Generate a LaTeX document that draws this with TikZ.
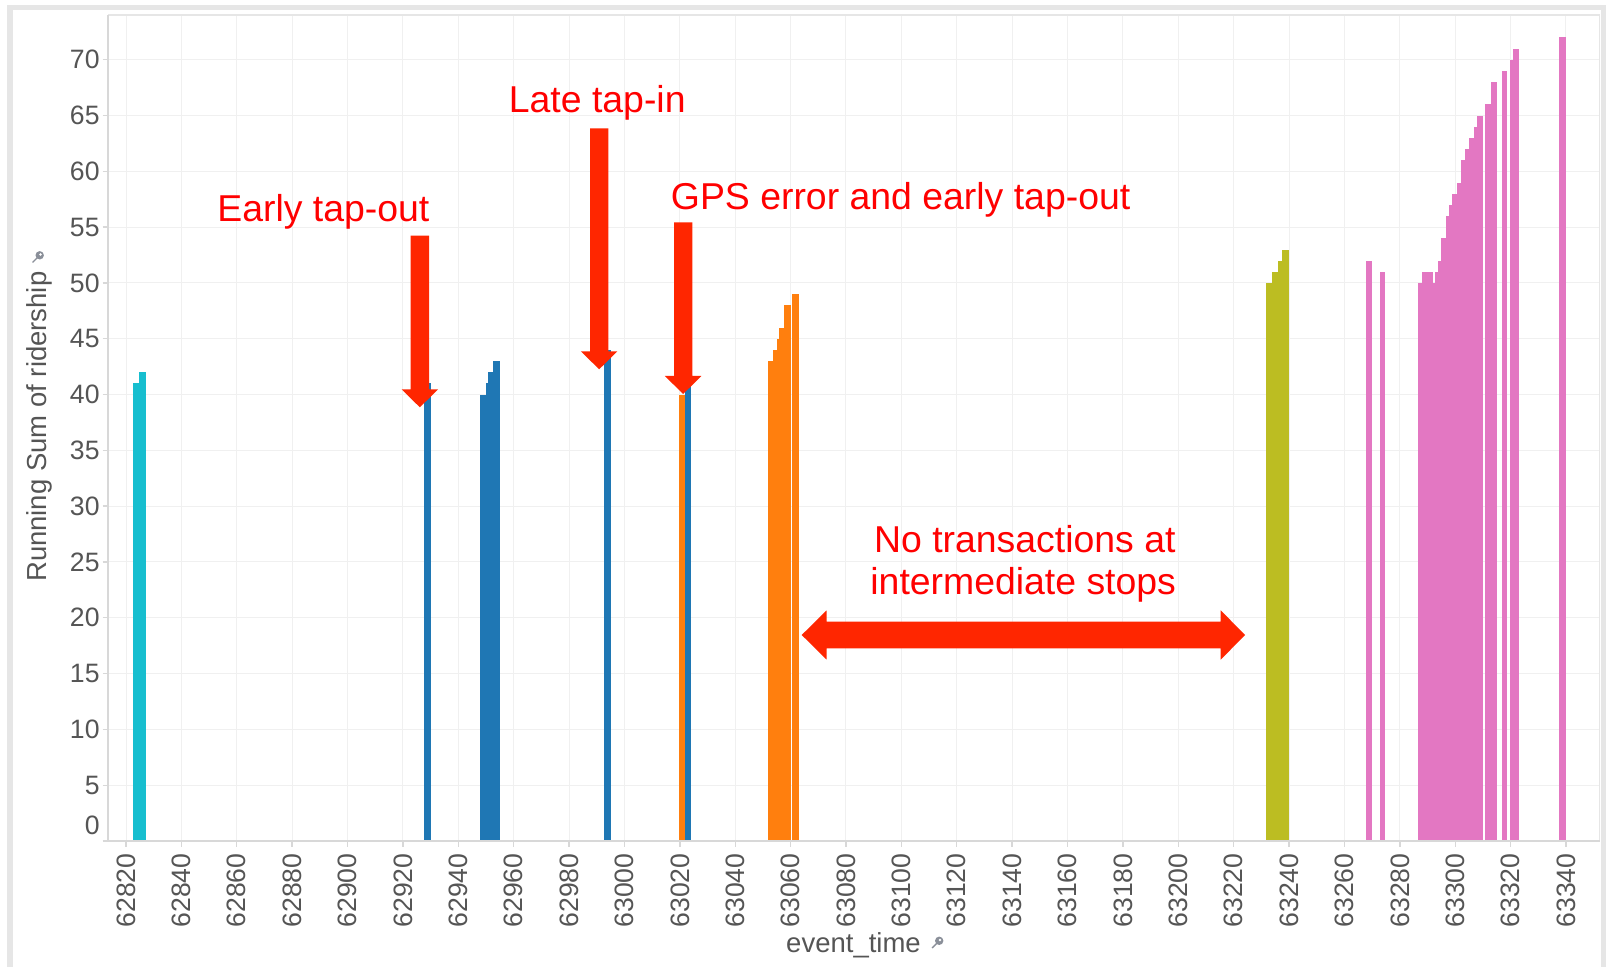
\documentclass[tikz,border=0pt]{standalone}
\usepackage{fontspec}
\setmainfont{Liberation Sans}
\usepackage{xcolor}
\definecolor{tabcyan}{HTML}{17BECF}
\definecolor{tabblue}{HTML}{1F77B4}
\definecolor{taborange}{HTML}{FF7F0E}
\definecolor{tabolive}{HTML}{BCBD22}
\definecolor{tabpink}{HTML}{E377C2}
\definecolor{markred}{HTML}{FF2600}
\definecolor{notered}{HTML}{FF0000}
\definecolor{inkgray}{HTML}{555555}
\definecolor{gridgray}{HTML}{F0F0F0}
\definecolor{axisgray}{HTML}{D8D8D8}
\definecolor{framegray}{HTML}{E6E6E6}
\definecolor{pingray}{HTML}{8A8F99}
% block arrow pointing down: centre x, top, tip
\newcommand{\downArrow}[3]{%
  \fill[markred] (#1-9.15,#2) -- (#1+9.15,#2) -- (#1+9.15,#3-18) -- (#1+18.3,#3-18)
    -- (#1,#3) -- (#1-18.3,#3-18) -- (#1-9.15,#3-18) -- cycle;}
% little pin next to the axis titles
\newcommand{\pinmark}[1]{%
  \begin{scope}[shift={(#1)}]
    \draw[pingray, line width=0.7pt] (0.5,-0.5) -- (-5,5);
    \fill[pingray] (2.2,-2.2) circle[radius=2.1pt];
    \fill[white] (3,-3) circle[radius=0.7pt];
  \end{scope}}

\begin{document}
\begin{tikzpicture}[
  x=0.5pt, y=-0.5pt,
  gline/.style={draw=gridgray, line width=0.5pt},
  axisline/.style={draw=axisgray, line width=0.7pt},
  xlab/.style={rotate=90, anchor=east, inner sep=0pt, text=inkgray,
               font=\fontsize{13.3}{15}\selectfont},
  ylab/.style={anchor=east, inner sep=0pt, text=inkgray,
               font=\fontsize{13.3}{15}\selectfont},
  ttl/.style={anchor=base, inner sep=0pt, text=inkgray,
              font=\fontsize{13.75}{16}\selectfont},
  note/.style={anchor=base west, inner sep=0pt, text=notered,
               font=\fontsize{18.7}{21}\selectfont},
]
\useasboundingbox (0,0) rectangle (1607,967);
\fill[white] (0,0) rectangle (1607,967);
\draw[framegray, line width=2.6pt] (10,7.5) rectangle (1603.5,990);
% ---------------- chart in data units (seconds after 62820, ridership)
\begin{scope}[shift={(126,841)}, x=1.3846pt, y=5.58pt]
  \foreach \v in {5,10,...,70} {\draw[gline] (-6.5,\v) -- (532.1,\v);}
  \foreach \t in {0,20,...,520} {\draw[gline] (\t,0) -- (\t,74);}
  \draw[draw=framegray, line width=0.7pt] (-6.5,74) -- (532.1,74) -- (532.1,0);
  % bars
  \foreach \a/\b/\h in {2.6/4.8/41, 4.8/7.2/42}
    {\fill[tabcyan] (\a,0) rectangle (\b,\h);}
  \foreach \a/\b/\h in {107.7/110.1/41, 127.8/129.9/40, 129.9/130.8/41,
      130.8/132.6/42, 132.6/135.1/43, 172.6/175.0/44, 201.9/204.0/41}
    {\fill[tabblue] (\a,0) rectangle (\b,\h);}
  \foreach \a/\b/\h in {199.8/201.9/40, 231.9/233.5/43, 233.5/235.0/44,
      235.0/235.7/45, 235.7/237.7/46, 237.7/240.0/48, 240.6/243.0/49}
    {\fill[taborange] (\a,0) rectangle (\b,\h);}
  \foreach \a/\b/\h in {411.7/413.7/50, 413.7/415.9/51, 415.9/417.6/52,
      417.6/420.0/53}
    {\fill[tabolive] (\a,0) rectangle (\b,\h);}
  \foreach \a/\b/\h in {447.8/449.8/52, 452.8/454.8/51, 466.7/467.9/50,
      467.9/471.9/51, 471.9/472.8/50, 472.8/473.7/51, 473.7/474.9/52,
      474.9/476.6/54, 476.6/477.8/56, 477.8/478.7/57, 478.7/480.8/58,
      480.8/482.0/59, 482.0/483.6/61, 483.6/484.9/62, 484.9/486.9/63,
      486.9/487.8/64, 487.8/490.1/65, 490.7/492.8/66, 492.8/495.2/68,
      496.9/498.8/69, 499.8/501.0/70, 501.0/503.0/71, 517.6/520.0/72}
    {\fill[tabpink] (\a,0) rectangle (\b,\h);}
  % axes and ticks
  \draw[axisline] (-6.5,74) -- (-6.5,0) -- (532.1,0);
  \foreach \v in {0,5,...,70} {\draw[axisline] (-8.4,\v) -- (-6.5,\v);}
  \foreach \t in {0,20,...,520} {\draw[axisline] (\t,0) -- (\t,-0.54);}
  \foreach \t in {0,20,...,520} {
    \node[xlab] (xl\t) at (\t,-1.08) {\the\numexpr62820+\t\relax};
  }
  \foreach \v in {5,10,...,70} {\node[ylab] (yl\v) at (-9.4,\v) {\v};}
  \node[ylab] (yl0) at (-9.4,1.43) {0};
\end{scope}
% ---------------- axis titles
\node[ttl, rotate=90] (ytitle) at (46.7,426.7) {Running Sum of ridership};
\node[ttl] (xtitle) at (853.5,952.7) {event\_time};
\pinmark{37.5,257.5}
\pinmark{937,943}
% ---------------- annotations
\downArrow{419.85}{235.7}{407.3}
\downArrow{599.15}{128.3}{369.3}
\downArrow{683.15}{222.3}{394}
\fill[markred] (801.7,635) -- (826.7,610.3) -- (826.7,621.7) -- (1220.7,621.7)
  -- (1220.7,610.3) -- (1245,635) -- (1220.7,659.7) -- (1220.7,648.3)
  -- (826.7,648.3) -- (826.7,659.7) -- cycle;
\node[note] (early) at (217,221.7) {Early tap-out};
\node[note] (late) at (508.5,112.3) {Late tap-in};
\node[note] (gps) at (670.5,210) {GPS error and early tap-out};
\node[note, anchor=base] (gapA) at (1024.8,552.7) {No transactions at};
\node[note, anchor=base] (gapB) at (1023.2,595) {intermediate stops};
\end{tikzpicture}
\end{document}
